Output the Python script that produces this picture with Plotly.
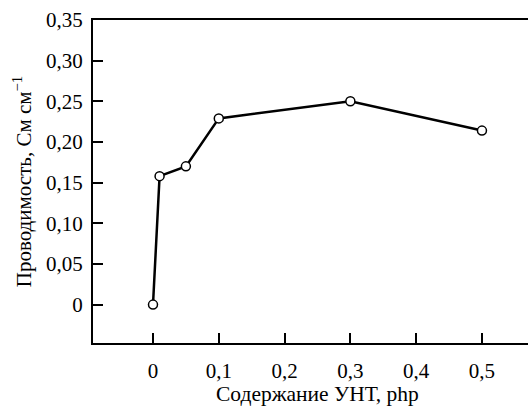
import plotly.graph_objects as go

# Conductivity vs. CNT content
cnt_content = [0, 0.01, 0.05, 0.1, 0.3, 0.5]
conductivity = [0.0, 0.158, 0.170, 0.229, 0.250, 0.214]

x_ticks = [0, 0.1, 0.2, 0.3, 0.4, 0.5]
x_tick_text = ["0", "0,1", "0,2", "0,3", "0,4", "0,5"]
y_ticks = [0, 0.05, 0.10, 0.15, 0.20, 0.25, 0.30, 0.35]
y_tick_text = ["0", "0,05", "0,10", "0,15", "0,20", "0,25", "0,30", "0,35"]

x_title = "Содержание УНТ, php"
y_title = "Проводимость, См см<sup>−1</sup>"

SERIF = "Times New Roman, Liberation Serif, serif"

fig = go.Figure(
    go.Scatter(
        x=cnt_content,
        y=conductivity,
        mode="lines+markers",
        line=dict(color="black", width=2.5),
        marker=dict(size=9, color="white", line=dict(color="black", width=1.5)),
        cliponaxis=False,
    )
)

fig.update_layout(
    width=528,
    height=408,
    margin=dict(l=93, r=0, t=20, b=65),
    paper_bgcolor="white",
    plot_bgcolor="white",
    font=dict(family=SERIF, size=21, color="black"),
    showlegend=False,
)

fig.update_xaxes(
    range=[-0.0912, 0.570],
    tickvals=x_ticks,
    ticktext=x_tick_text,
    tickfont=dict(family=SERIF, size=21, color="black"),
    ticks="inside",
    ticklen=10,
    tickwidth=1.5,
    tickcolor="black",
    showline=True,
    linecolor="black",
    linewidth=2,
    mirror=True,
    showgrid=False,
    zeroline=False,
    ticklabelstandoff=8,
)

# x-axis caption, set slightly right of the plot centre
fig.add_annotation(
    text=x_title,
    xref="paper", yref="paper",
    x=0.515, y=-0.158,
    xanchor="center", yanchor="middle",
    showarrow=False,
    font=dict(family=SERIF, size=21.5, color="black"),
)

fig.update_yaxes(
    range=[-0.0472, 0.35],
    tickvals=y_ticks,
    ticktext=y_tick_text,
    tickfont=dict(family=SERIF, size=21, color="black"),
    ticks="inside",
    ticklen=10,
    tickwidth=1.5,
    tickcolor="black",
    showline=True,
    linecolor="black",
    linewidth=2,
    showgrid=False,
    zeroline=False,
    ticklabelstandoff=4,
    title=dict(text=y_title,
               font=dict(family=SERIF, size=21, color="black"), standoff=9),
)

fig.write_html("out.html")
